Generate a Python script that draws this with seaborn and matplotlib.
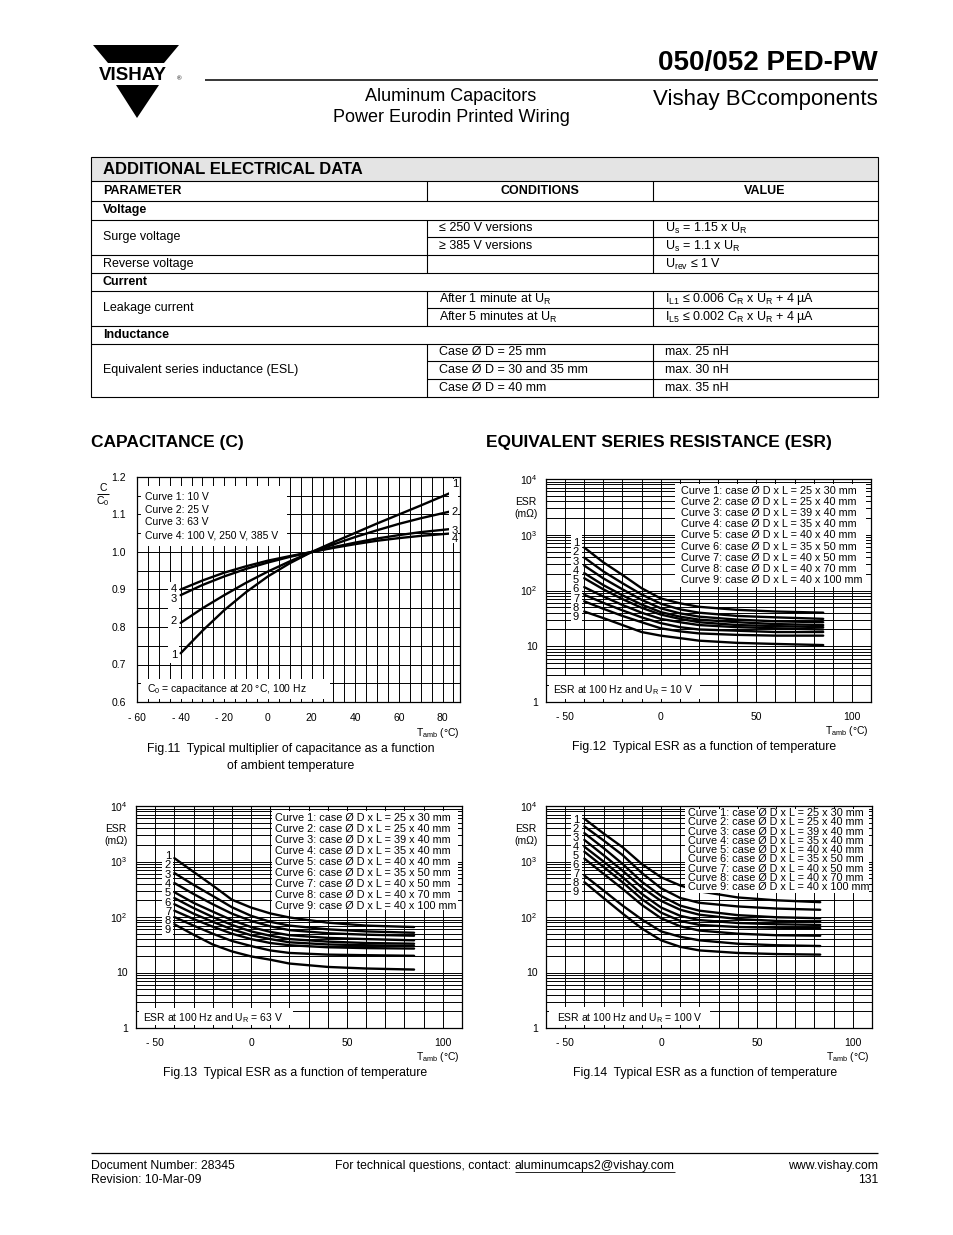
import numpy as np
import pandas as pd
import seaborn as sns
import matplotlib
matplotlib.use("Agg")
from matplotlib import pyplot as plt
from matplotlib.patches import Rectangle, Polygon
from matplotlib.ticker import MultipleLocator, LogLocator, NullFormatter

W, H = 954, 1235

# ---- Fig.11 capacitance multiplier ----
cap_temp = [-40, -30, -20, -10, 0, 10, 20, 30, 40, 50, 60, 70, 85]
cap_10v = [0.730, 0.790, 0.845, 0.893, 0.935, 0.970, 1.000, 1.026, 1.051, 1.076, 1.100, 1.124, 1.161]
cap_25v = [0.811, 0.850, 0.885, 0.918, 0.948, 0.975, 1.000, 1.020, 1.040, 1.058, 1.075, 1.090, 1.110]
cap_63v = [0.885, 0.912, 0.935, 0.955, 0.972, 0.987, 1.000, 1.013, 1.025, 1.036, 1.045, 1.053, 1.062]
cap_100v = [0.900, 0.924, 0.945, 0.962, 0.977, 0.989, 1.000, 1.011, 1.021, 1.030, 1.037, 1.043, 1.050]
cap_legend = ["Curve 1: 10 V", "Curve 2: 25 V", "Curve 3: 63 V", "Curve 4: 100 V, 250 V, 385 V"]

# ---- ESR curves (mOhm), curves 1..9 ----
esr_temp = [-40, -30, -20, -10, 0, 10, 20, 40, 60, 85]
esr_temp_100v = [-40, -30, -20, -10, 0, 10, 20, 40, 60, 83]
esr_10v = [
    [590, 320, 190, 110, 72, 59, 51, 45, 42, 40],
    [390, 220, 135, 85, 58, 46, 40, 35, 33, 31],
    [280, 165, 105, 68, 48, 39, 34, 30, 28, 27],
    [205, 125, 82, 56, 41, 34, 30, 27, 25, 24],
    [166, 105, 70, 49, 37, 31, 27, 24, 23, 22],
    [115, 78, 55, 40, 31, 27, 24, 22, 21, 20],
    [84, 60, 44, 33, 26, 22, 20, 19, 18, 18],
    [64, 47, 35, 27, 21, 18.5, 17, 16, 15.5, 15.5],
    [42, 32, 24, 18, 15.5, 14, 12.6, 11.5, 11, 10.5],
]
esr_63v = [
    [1150, 650, 370, 205, 148, 116, 98, 79, 70, 66],
    [620, 380, 240, 150, 105, 82, 70, 60, 55, 52],
    [410, 260, 170, 115, 85, 68, 58, 51, 48, 46],
    [280, 180, 125, 88, 66, 54, 47, 42, 40, 38],
    [220, 145, 100, 72, 55, 46, 40, 36, 34, 33],
    [170, 115, 82, 60, 47, 40, 35, 32, 31, 30],
    [130, 92, 67, 50, 40, 34, 31, 28.5, 27.5, 27],
    [100, 70, 50, 37, 30, 25, 22.5, 21, 20.5, 20],
    [74, 48, 32, 24, 19.5, 17, 14.5, 12.6, 11.8, 11.3],
]
esr_100v = [
    [5900, 3200, 1800, 900, 520, 370, 290, 225, 200, 185],
    [4300, 2400, 1300, 620, 330, 220, 180, 155, 142, 135],
    [3250, 1750, 900, 430, 240, 160, 130, 108, 99, 95],
    [2450, 1300, 680, 340, 195, 135, 110, 92, 85, 82],
    [1850, 1000, 520, 260, 148, 105, 88, 78, 74, 72],
    [1500, 800, 420, 210, 120, 85, 72, 66, 64, 63],
    [1130, 600, 320, 165, 95, 68, 57, 50, 47, 46],
    [560, 300, 160, 90, 55, 44, 38, 33, 31, 30],
    [425, 220, 115, 62, 38, 29, 25, 22.5, 21.5, 21],
]
case_sizes = ["25 x 30", "25 x 40", "39 x 40", "35 x 40", "40 x 40",
              "35 x 50", "40 x 50", "40 x 70", "40 x 100"]

# ---- table text ----
tbl_sections = ["Voltage", "Current", "Inductance"]
tbl_params = ["Surge voltage", "Reverse voltage", "Leakage current", "Equivalent series inductance (ESL)"]
tbl_conditions = ["≤ 250 V versions", "≥ 385 V versions", "",
                  "After 1 minute at U$_\\mathrm{R}$", "After 5 minutes at U$_\\mathrm{R}$",
                  "Case Ø D = 25 mm", "Case Ø D = 30 and 35 mm", "Case Ø D = 40 mm"]
tbl_values = ["U$_\\mathrm{s}$ = 1.15 x U$_\\mathrm{R}$", "U$_\\mathrm{s}$ = 1.1 x U$_\\mathrm{R}$",
              "U$_\\mathrm{rev}$ ≤ 1 V",
              "I$_\\mathrm{L1}$ ≤ 0.006 C$_\\mathrm{R}$ x U$_\\mathrm{R}$ + 4 µA",
              "I$_\\mathrm{L5}$ ≤ 0.002 C$_\\mathrm{R}$ x U$_\\mathrm{R}$ + 4 µA",
              "max. 25 nH", "max. 30 nH", "max. 35 nH"]

sns.set_style("white")
plt.rcParams["font.family"] = ["Liberation Sans", "DejaVu Sans"]
plt.rcParams["mathtext.fontset"] = "custom"
plt.rcParams["mathtext.rm"] = "Liberation Sans"
plt.rcParams["mathtext.it"] = "Liberation Sans:italic"
plt.rcParams["mathtext.bf"] = "Liberation Sans:bold"

fig = plt.figure(figsize=(W / 100, H / 100), dpi=100)
fig.patch.set_facecolor("white")
page = fig.add_axes([0, 0, 1, 1], zorder=10)
page.set_xlim(0, W)
page.set_ylim(H, 0)
page.axis("off")
page.patch.set_visible(False)


def px(l, t, r, b):
    return [l / W, 1 - b / H, (r - l) / W, (b - t) / H]


def blank(l, t, r, b, color="white"):
    page.add_patch(Rectangle((l, t), r - l, b - t, facecolor=color, edgecolor="none", zorder=1))


def put(x, y, s, size=7.5, ha="left", va="center", **kw):
    return page.text(x, y, s, fontsize=size, ha=ha, va=va, color="black", zorder=3, **kw)


def hline(y, x0, x1, lw=0.8):
    page.plot([x0, x1], [y, y], color="black", lw=lw, zorder=2, solid_capstyle="butt")


def vline(x, y0, y1, lw=0.8):
    page.plot([x, x], [y0, y1], color="black", lw=lw, zorder=2, solid_capstyle="butt")


def frame(ax):
    for s in ax.spines.values():
        s.set_visible(True)
        s.set_color("black")
        s.set_linewidth(0.9)
    ax.grid(which="both", color="black", linewidth=0.7)
    ax.set_axisbelow(True)
    ax.tick_params(which="both", length=0, labelsize=7.5, colors="black")
    ax.set_xlabel("")
    ax.set_ylabel("")
    ax.set_facecolor("white")


# ---------------- header ----------------
page.add_patch(Polygon([(93, 45), (179, 45), (164, 63), (108, 63)], closed=True, fc="black", ec="none"))
page.add_patch(Polygon([(116, 85), (159, 85), (137, 118)], closed=True, fc="black", ec="none"))
put(133, 80, "VISHAY", size=13.5, ha="center", va="baseline", fontweight="bold")
put(179, 80, "®", size=4.5, ha="center", va="baseline")
hline(80, 205, 878, lw=1.1)
put(878, 70, "050/052 PED-PW", size=20, ha="right", va="baseline", fontweight="bold")
put(878, 105, "Vishay BCcomponents", size=16, ha="right", va="baseline")
put(451, 101, "Aluminum Capacitors", size=13, ha="center", va="baseline")
put(451, 122, "Power Eurodin Printed Wiring", size=13, ha="center", va="baseline")

# ---------------- table ----------------
L, C1, C2, R = 91, 427, 653, 878
blank(L, 157, R, 181, color="#e4e4e4")
page.add_patch(Rectangle((L, 157), R - L, 397 - 157, fill=False, ec="black", lw=0.8, zorder=2))
full_rows = [181, 201, 219.5, 255, 273, 290.5, 326, 343.5]
for y in full_rows:
    hline(y, L, R)
for y in [237, 308, 361, 379]:
    hline(y, C1, R)
for y0, y1 in [(181, 201), (219.5, 273), (290.5, 326), (343.5, 397)]:
    vline(C1, y0, y1)
    vline(C2, y0, y1)
put(103, 169.5, "ADDITIONAL ELECTRICAL DATA", size=12, fontweight="bold")
put(103, 191, "PARAMETER", size=9, fontweight="bold")
put(540, 191, "CONDITIONS", size=9, fontweight="bold", ha="center")
put(765, 191, "VALUE", size=9, fontweight="bold", ha="center")
for y, s in zip([210.5, 282, 335], tbl_sections):
    put(103, y, s, size=9, fontweight="bold")
for y, s in zip([237, 264, 308, 370], tbl_params):
    put(103, y, s, size=9)
for y, c, v in zip([228, 246, 264, 299, 317, 352, 370, 388], tbl_conditions, tbl_values):
    if c:
        put(439, y, c, size=9)
    put(665, y, v, size=9)

# ---------------- section headings ----------------
put(91, 443, "CAPACITANCE (C)", size=12.5, fontweight="bold")
put(486, 443, "EQUIVALENT SERIES RESISTANCE (ESR)", size=12.5, fontweight="bold")

# ---------------- Fig.11 ----------------
ax = fig.add_axes(px(137, 477, 460, 702))
cap_df = pd.DataFrame({
    "T": cap_temp * 4,
    "ratio": cap_10v + cap_25v + cap_63v + cap_100v,
    "curve": np.repeat([1, 2, 3, 4], len(cap_temp)),
})
sns.lineplot(data=cap_df, x="T", y="ratio", units="curve", estimator=None,
             color="black", linewidth=1.7, ax=ax)
ax.set_xlim(-60, 88)
ax.set_ylim(0.6, 1.2)
ax.set_xticks(range(-60, 81, 20))
ax.set_xticklabels(["- 60", "- 40", "- 20", "0", "20", "40", "60", "80"])
ax.xaxis.set_minor_locator(MultipleLocator(5))
ax.set_yticks([0.6, 0.7, 0.8, 0.9, 1.0, 1.1, 1.2])
ax.set_yticklabels(["0.6", "0.7", "0.8", "0.9", "1.0", "1.1", "1.2"])
ax.yaxis.set_minor_locator(MultipleLocator(0.05))
frame(ax)
ax.tick_params(axis="y", pad=8)
ax.tick_params(axis="x", pad=8)

blank(141, 486, 287, 546)
for i, s in enumerate(cap_legend):
    put(145, 497 + 12.7 * i, s, size=7.5)
blank(141, 679, 330, 699)
put(147, 689, "C$_0$ = capacitance at 20 °C, 100 Hz", size=7.5)
blank(168, 582, 179, 663)
for y, s in zip([589, 599, 621, 655], ["4", "3", "2", "1"]):
    put(174, y, s, size=8, ha="center")
blank(449, 479, 458, 543)
for y, s in zip([484, 512, 531, 539], ["1", "2", "3", "4"]):
    put(455, y, s, size=8, ha="center")
put(103, 488, "C", size=7.5, ha="center")
hline(494, 97, 109, lw=0.7)
put(103, 501, "C$_0$", size=7.5, ha="center")
put(438, 733, "T$_\\mathrm{amb}$ (°C)", size=7.5, ha="center")
put(291, 749, "Fig.11  Typical multiplier of capacitance as a function", size=8.8, ha="center")
put(291, 766, "of ambient temperature", size=8.8, ha="center")


# ---------------- ESR charts ----------------
def esr_chart(l, t, r, b, temps, curves):
    ax = fig.add_axes(px(l, t, r, b))
    df = pd.DataFrame({
        "T": temps * len(curves),
        "ESR": [v for c in curves for v in c],
        "curve": np.repeat(np.arange(1, len(curves) + 1), len(temps)),
    })
    sns.lineplot(data=df, x="T", y="ESR", units="curve", estimator=None,
                 color="black", linewidth=1.7, ax=ax)
    ax.set_yscale("log")
    ax.set_xlim(-60, 110)
    ax.set_ylim(1, 1e4)
    ax.set_xticks([-50, 0, 50, 100])
    ax.set_xticklabels(["- 50", "0", "50", "100"])
    ax.xaxis.set_minor_locator(MultipleLocator(10))
    ax.set_yticks([1, 10, 100, 1000, 10000])
    ax.set_yticklabels(["1", "10", "$\\mathregular{10^2}$", "$\\mathregular{10^3}$", "$\\mathregular{10^4}$"])
    ax.yaxis.set_minor_locator(LogLocator(base=10, subs=np.arange(2, 10)))
    ax.yaxis.set_minor_formatter(NullFormatter())
    frame(ax)
    ax.tick_params(axis="y", pad=6)
    ax.tick_params(axis="x", pad=7)
    return ax


def esr_decor(l, t, r, b, leg_box, leg_x, leg_y0, leg_dy, num_box, num_x, num_y0, num_dy,
              note_box, note_xy, note, fig_no):
    blank(*leg_box)
    for i, s in enumerate(case_sizes):
        put(leg_x, leg_y0 + leg_dy * i, f"Curve {i + 1}: case Ø D x L = {s} mm", size=7.8)
    blank(*num_box)
    for i in range(9):
        put(num_x, num_y0 + num_dy * i, str(i + 1), size=8, ha="center")
    blank(*note_box)
    put(note_xy[0], note_xy[1], note, size=7.5)
    put(l - 20, t + 23, "ESR", size=7.5, ha="center")
    put(l - 20, t + 35, "(mΩ)", size=7.5, ha="center")
    put(r - 24, b + 29, "T$_\\mathrm{amb}$ (°C)", size=7.5, ha="center")
    put((l + r) / 2 - 4, b + 45, f"Fig.{fig_no}  Typical ESR as a function of temperature",
        size=8.8, ha="center")


esr_chart(546, 479, 871, 702, esr_temp, esr_10v)
esr_decor(546, 479, 871, 702, (675, 484, 866, 587), 681, 491, 11.1,
          (571, 535, 582, 625), 576, 543, 9.3,
          (549, 676, 700, 699), (553, 690), "ESR at 100 Hz and U$_\\mathrm{R}$ = 10 V", 12)

esr_chart(136, 806, 462, 1028, esr_temp, esr_63v)
esr_decor(136, 806, 462, 1028, (272, 811, 458, 910), 275, 818, 11.0,
          (162, 850, 173, 938), 168, 856, 9.3,
          (139, 1008, 293, 1025), (143, 1018), "ESR at 100 Hz and U$_\\mathrm{R}$ = 63 V", 13)

esr_chart(546, 806, 872, 1028, esr_temp_100v, esr_100v)
esr_decor(546, 806, 872, 1028, (685, 809, 869, 893), 688, 813, 9.3,
          (571, 814, 582, 898), 576, 820, 9.0,
          (549, 1007, 710, 1025), (557, 1018), "ESR at 100 Hz and U$_\\mathrm{R}$ = 100 V", 14)

# ---------------- footer ----------------
hline(1153, 91, 878, lw=0.9)
put(91, 1166, "Document Number: 28345", size=8.8)
put(91, 1180, "Revision: 10-Mar-09", size=8.8)
put(515, 1166, "For technical questions, contact: ", size=8.8, ha="right")
mail = put(515, 1166, "aluminumcaps2@vishay.com", size=8.8)
put(878, 1166, "www.vishay.com", size=8.8, ha="right")
put(878, 1180, "131", size=8.8, ha="right")

fig.canvas.draw()
bb = mail.get_window_extent()
x_end = page.transData.inverted().transform((bb.x1, bb.y0))[0]
hline(1172, 515, x_end, lw=0.6)

fig.savefig("out.png", dpi=100, facecolor="white")
